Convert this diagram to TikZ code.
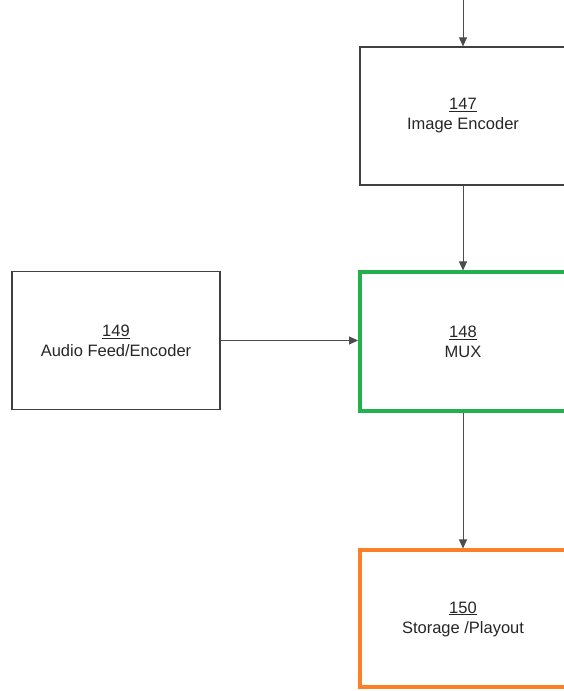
\documentclass[tikz,border=0pt]{standalone}
\usepackage{fontspec}
\setmainfont{Liberation Sans}
\usetikzlibrary{arrows.meta}
\definecolor{muxgreen}{RGB}{34,177,76}
\definecolor{storeorange}{RGB}{255,127,39}
\tikzset{
  blockbox/.style={draw=black!75,line width=1.2pt,minimum width=206pt,minimum height=138pt,
    align=center,font=\fontsize{16.5}{20}\selectfont,text=black!85},
  flow/.style={draw=black!70,line width=0.9pt,-{Triangle[length=9pt,width=8pt]}}
}
\begin{document}
\begin{tikzpicture}[x=1pt,y=1pt]
\useasboundingbox (0,0) rectangle (564,691);
\clip (0,0) rectangle (564,691);
\coordinate (feed) at (463,691);
\node[blockbox] (enc) at (463,575) {\underline{147}\\Image Encoder};
\node[blockbox,draw=muxgreen,line width=4pt,minimum height=139pt] (mux) at (463,349) {\underline{148}\\MUX};
\node[blockbox,minimum width=208pt] (audio) at (116,350.5) {\underline{149}\\Audio Feed/Encoder};
\node[blockbox,draw=storeorange,line width=4pt,minimum height=137pt] (store) at (463,72) {\underline{150}\\Storage /Playout};

\draw[flow] (feed) -- (enc);
\draw[flow] (enc) -- (mux);
\draw[flow] (audio) -- (audio -| mux.west);
\draw[flow] (mux) -- (store);
\end{tikzpicture}
\end{document}
